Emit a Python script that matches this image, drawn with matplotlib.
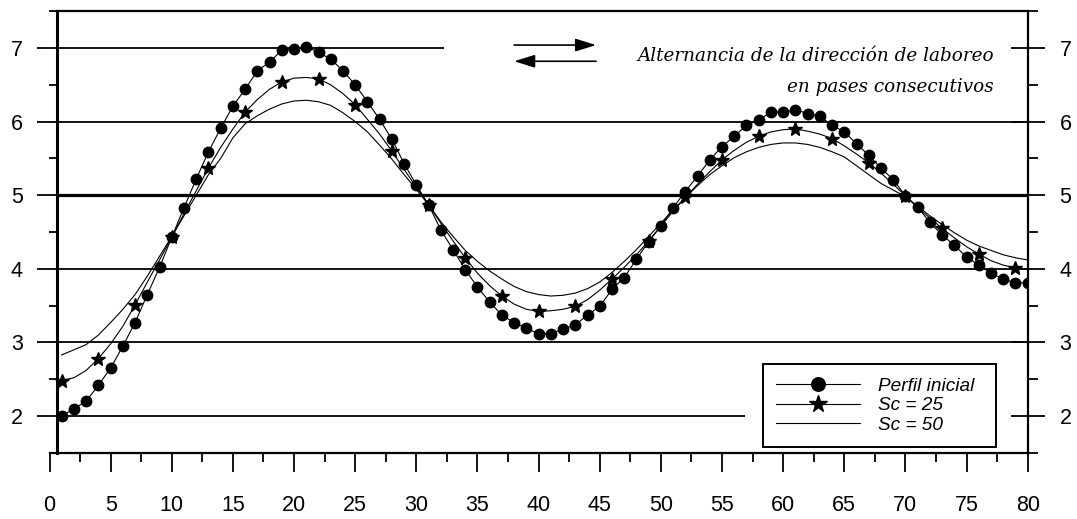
import matplotlib
matplotlib.use("Agg")
import matplotlib.pyplot as plt
from matplotlib.ticker import MultipleLocator, FixedLocator

plt.rcParams['font.family'] = ['Liberation Sans', 'DejaVu Sans']

# ---------------- data ----------------
x = list(range(1, 81))

perfil_inicial = [
    2.00, 2.10, 2.20, 2.42, 2.65, 2.95, 3.27, 3.65, 4.02, 4.43,
    4.83, 5.22, 5.59, 5.91, 6.21, 6.44, 6.69, 6.81, 6.97, 6.98,
    7.02, 6.94, 6.85, 6.69, 6.50, 6.27, 6.03, 5.76, 5.43, 5.14,
    4.87, 4.53, 4.26, 3.99, 3.75, 3.55, 3.37, 3.27, 3.19, 3.12,
    3.12, 3.18, 3.24, 3.37, 3.49, 3.72, 3.88, 4.13, 4.37, 4.58,
    4.83, 5.05, 5.26, 5.48, 5.66, 5.80, 5.95, 6.02, 6.13, 6.13,
    6.16, 6.11, 6.07, 5.95, 5.86, 5.70, 5.54, 5.37, 5.21, 4.99,
    4.84, 4.63, 4.46, 4.32, 4.16, 4.05, 3.94, 3.86, 3.81, 3.81,
]

sc25 = [
    2.48, 2.52, 2.62, 2.78, 2.98, 3.22, 3.51, 3.82, 4.12, 4.43,
    4.75, 5.06, 5.37, 5.65, 5.90, 6.13, 6.30, 6.44, 6.54, 6.59,
    6.60, 6.58, 6.50, 6.38, 6.23, 6.03, 5.83, 5.60, 5.35, 5.11,
    4.87, 4.62, 4.38, 4.15, 3.94, 3.77, 3.63, 3.52, 3.45, 3.42,
    3.43, 3.45, 3.49, 3.58, 3.71, 3.86, 4.02, 4.19, 4.38, 4.58,
    4.78, 4.97, 5.15, 5.32, 5.48, 5.61, 5.72, 5.80, 5.86, 5.89,
    5.90, 5.87, 5.83, 5.77, 5.67, 5.56, 5.44, 5.30, 5.15, 4.99,
    4.83, 4.69, 4.55, 4.42, 4.30, 4.20, 4.11, 4.05, 4.01, 3.99,
]

sc50 = [
    2.83, 2.90, 2.97, 3.10, 3.27, 3.45, 3.65, 3.90, 4.17, 4.44,
    4.72, 5.00, 5.28, 5.50, 5.78, 5.97, 6.08, 6.17, 6.24, 6.28,
    6.29, 6.27, 6.22, 6.12, 6.00, 5.86, 5.68, 5.49, 5.28, 5.08,
    4.87, 4.64, 4.44, 4.25, 4.10, 3.97, 3.86, 3.76, 3.69, 3.65,
    3.63, 3.64, 3.67, 3.73, 3.82, 3.95, 4.10, 4.26, 4.44, 4.62,
    4.80, 4.97, 5.13, 5.28, 5.40, 5.51, 5.59, 5.65, 5.69, 5.71,
    5.71, 5.69, 5.65, 5.59, 5.52, 5.40, 5.28, 5.16, 5.07, 4.98,
    4.85, 4.72, 4.60, 4.49, 4.39, 4.31, 4.25, 4.19, 4.15, 4.12,
]

series_labels = ['Perfil inicial', 'Sc = 25', 'Sc = 50']
xticks = list(range(0, 81, 5))
yticks = [2, 3, 4, 5, 6, 7]
annotation_lines = ['Alternancia de la dirección de laboreo', 'en pases consecutivos']

# ---------------- figure ----------------
W, H = 1077, 519
fig = plt.figure(figsize=(W / 100, H / 100), dpi=100)
ax_l, ax_r, ax_t, ax_b = 49.5, 1027.7, 11.2, 452.8
ax = fig.add_axes([ax_l / W, (H - ax_b) / H, (ax_r - ax_l) / W, (ax_b - ax_t) / H])
ax.set_xlim(0, 80)
ax.set_ylim(1.5, 7.5)

yaxis_x = 0.65

# horizontal reference lines
for yv in yticks:
    if yv == 7:
        xe = 32.3
    elif yv == 2:
        xe = 56.9
    else:
        xe = 80
    ax.hlines(yv, yaxis_x, xe, color='black', lw=2.3 if yv == 5 else 1.3, zorder=1)

# series
ax.plot(x, sc50, color='black', lw=0.8, label=series_labels[2], zorder=3)
ax.plot(x, sc25, color='black', lw=0.8, marker='*', ms=10, markevery=slice(0, None, 3),
        label=series_labels[1], zorder=4)
ax.plot(x, perfil_inicial, color='black', lw=0.8, marker='o', ms=7.5,
        label=series_labels[0], zorder=5)

# spines
for s in ['top', 'bottom', 'left', 'right']:
    ax.spines[s].set_color('black')
ax.spines['left'].set_position(('data', yaxis_x))
ax.spines['left'].set_linewidth(2.2)
ax.spines['bottom'].set_linewidth(1.6)
ax.spines['top'].set_linewidth(1.6)
ax.spines['top'].set_bounds(yaxis_x, 80)
ax.spines['right'].set_visible(False)

# x ticks
ax.xaxis.set_major_locator(FixedLocator(xticks))
ax.xaxis.set_minor_locator(MultipleLocator(2.5))
ax.tick_params(axis='x', which='major', direction='out', length=13.7, width=1.3,
               labelsize=15.5, pad=16.5)
ax.tick_params(axis='x', which='minor', direction='out', length=6.5, width=1.3)

# left y ticks
ax.yaxis.set_major_locator(FixedLocator(yticks))
ax.yaxis.set_minor_locator(FixedLocator([1.5, 2.5, 3.5, 4.5, 5.5, 6.5, 7.5]))
ax.tick_params(axis='y', which='major', direction='out', length=14.4, width=1.3,
               labelsize=15.5, pad=10.5, right=False)
ax.tick_params(axis='y', which='minor', direction='out', length=5.8, width=1.3, right=False)

# right y axis
ax2 = ax.twinx()
ax2.set_ylim(1.5, 7.5)
for s in ['top', 'bottom', 'left']:
    ax2.spines[s].set_visible(False)
ax2.spines['right'].set_linewidth(1.6)
ax2.spines['right'].set_color('black')
ax2.yaxis.set_major_locator(FixedLocator(yticks))
ax2.yaxis.set_minor_locator(FixedLocator([1.5, 2.5, 3.5, 4.5, 5.5, 6.5, 7.5]))
ax2.tick_params(axis='y', which='major', direction='inout', length=24, width=1.3,
                labelsize=15.5, pad=11)
ax2.tick_params(axis='y', which='minor', direction='out', length=7.2, width=1.3)

# arrows
ax.annotate('', xy=(44.7, 7.04), xytext=(38.0, 7.04),
            arrowprops=dict(arrowstyle='-|>,head_length=0.9,head_width=0.28',
                            mutation_scale=14, color='black', lw=1.2,
                            shrinkA=0, shrinkB=0))
ax.annotate('', xy=(38.0, 6.82), xytext=(44.7, 6.82),
            arrowprops=dict(arrowstyle='-|>,head_length=0.9,head_width=0.28',
                            mutation_scale=14, color='black', lw=1.2,
                            shrinkA=0, shrinkB=0))

ax.text(77.24, 6.82, annotation_lines[0], ha='right', va='baseline',
        family='DejaVu Serif', style='italic', fontsize=13.2)
ax.text(77.24, 6.40, annotation_lines[1], ha='right', va='baseline',
        family='DejaVu Serif', style='italic', fontsize=13.2)

# legend
h, l = ax.get_legend_handles_labels()
order = [2, 1, 0]
leg = ax.legend([h[i] for i in order], [l[i] for i in order],
                loc='lower left', bbox_to_anchor=(0.729, 0.0125, 0.239, 0.196),
                mode='expand', borderaxespad=0,
                prop={'family': 'Liberation Sans', 'style': 'italic', 'size': 13.7},
                handlelength=4.4, handletextpad=0.95, borderpad=0.7,
                labelspacing=0.12, numpoints=1, markerscale=1.3,
                fancybox=False, framealpha=1, edgecolor='black')
leg.get_frame().set_linewidth(1.4)
leg.set_zorder(10)

fig.savefig('out.png', dpi=100)
